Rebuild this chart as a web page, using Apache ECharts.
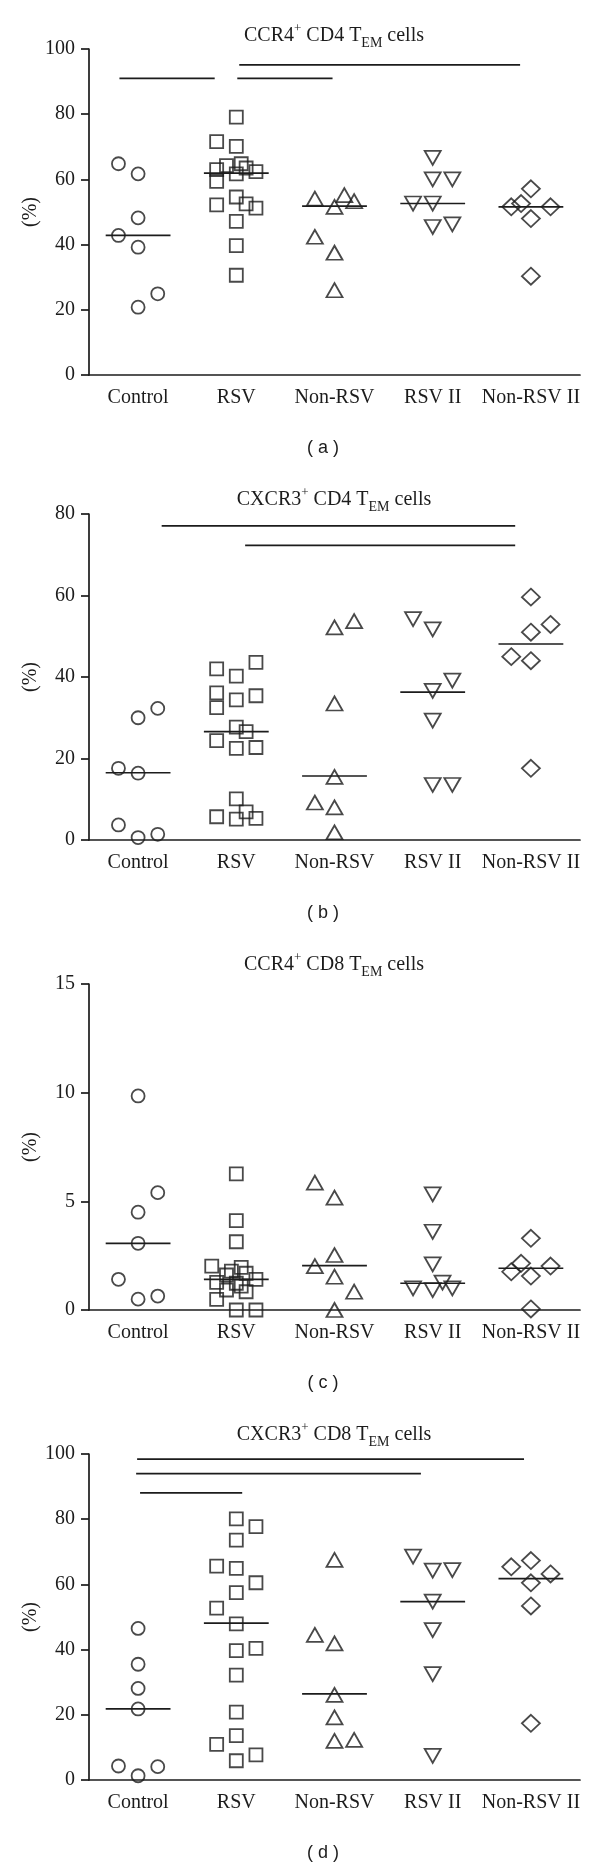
<!DOCTYPE html>
<html>
<head>
<meta charset="utf-8">
<script src="https://cdn.jsdelivr.net/npm/echarts@6/dist/echarts.min.js"></script>
<style>
  html, body { margin: 0; padding: 0; background: #fff; }
  #chart { width: 600px; height: 1869px; }
</style>
</head>
<body>
<div id="chart"></div>
<script>
// groups on the x axis
const categories = ['Control', 'RSV', 'Non-RSV', 'RSV II', 'Non-RSV II'];

// (a) CCR4+ CD4 TEM cells, values in % per group
const ccr4Cd4 = [
  [64.8, 61.7, 48.2, 42.8, 39.2, 24.9, 20.8],
  [79.1, 71.6, 70.1, 64.2, 64.8, 63.5, 62.4, 63.0, 61.7, 59.4, 54.6, 52.2, 52.5, 51.2, 47.1, 39.7, 30.6],
  [54.1, 55.2, 53.3, 51.6, 42.4, 37.5, 26.0],
  [66.6, 60.0, 60.0, 52.6, 52.6, 45.4, 46.2],
  [57.1, 52.6, 51.6, 51.6, 48.0, 30.3]
];
// horizontal spread of the points inside a group (category units)
const ccr4Cd4Jitter = [
  [-0.2, 0, 0, -0.2, 0, 0.2, 0],
  [0, -0.2, 0, -0.1, 0.05, 0.1, 0.2, -0.2, 0, -0.2, 0, -0.2, 0.1, 0.2, 0, 0, 0],
  [-0.2, 0.1, 0.2, 0, -0.2, 0, 0],
  [0, 0, 0.2, -0.2, 0, 0, 0.2],
  [0, -0.1, -0.2, 0.2, 0, 0]
];
const ccr4Cd4Median = [42.8, 61.9, 51.8, 52.6, 51.6];
// significance bars: [from, to, y]
const ccr4Cd4Bars = [[0.31, 1.28, 91], [1.51, 2.48, 91], [1.53, 4.39, 95.1]];

// (b) CXCR3+ CD4 TEM cells
const cxcr3Cd4 = [
  [30.0, 32.3, 17.6, 16.4, 3.7, 0.6, 1.4],
  [43.6, 42.0, 40.2, 36.1, 35.4, 34.4, 32.5, 27.7, 26.6, 24.4, 22.5, 22.7, 10.1, 6.9, 5.7, 5.1, 5.3],
  [52.2, 53.7, 33.5, 15.5, 9.2, 8.0, 1.9],
  [54.2, 51.7, 39.1, 36.6, 29.3, 13.5, 13.5],
  [59.6, 52.9, 51.0, 45.0, 44.0, 17.6]
];
const cxcr3Cd4Jitter = [
  [0, 0.2, -0.2, 0, -0.2, 0, 0.2],
  [0.2, -0.2, 0, -0.2, 0.2, 0, -0.2, 0, 0.1, -0.2, 0, 0.2, 0, 0.1, -0.2, 0, 0.2],
  [0, 0.2, 0, 0, -0.2, 0, 0],
  [-0.2, 0, 0.2, 0, 0, 0, 0.2],
  [0, 0.2, 0, -0.2, 0, 0]
];
const cxcr3Cd4Median = [16.5, 26.6, 15.7, 36.3, 48.1];
const cxcr3Cd4Bars = [[0.74, 4.34, 77.1], [1.59, 4.34, 72.3]];

// (c) CCR4+ CD8 TEM cells
const ccr4Cd8 = [
  [9.85, 5.4, 4.5, 3.07, 1.41, 0.5, 0.64],
  [6.26, 4.11, 3.14, 2.02, 1.96, 1.79, 1.69, 1.61, 1.27, 1.41, 1.23, 0.92, 0.84, 0.49, 0, 0, 1.1],
  [5.86, 5.17, 2.53, 2.02, 1.53, 0.84, 0],
  [5.32, 3.6, 2.1, 1.26, 1.0, 0.92, 1.0],
  [3.3, 2.15, 2.02, 1.76, 1.56, 0.05]
];
const ccr4Cd8Jitter = [
  [0, 0.2, 0, 0, -0.2, 0, 0.2],
  [0, 0, 0, -0.25, 0.05, -0.05, 0.1, -0.1, -0.2, 0.2, 0, -0.1, 0.1, -0.2, 0, 0.2, 0.05],
  [-0.2, 0, 0, -0.2, 0, 0.2, 0],
  [0, 0, 0, 0.1, -0.2, 0, 0.2],
  [0, -0.1, 0.2, -0.2, 0, 0]
];
const ccr4Cd8Median = [3.07, 1.41, 2.04, 1.23, 1.92];
const ccr4Cd8Bars = [];

// (d) CXCR3+ CD8 TEM cells
const cxcr3Cd8 = [
  [46.5, 35.5, 28.1, 21.8, 4.3, 4.1, 1.3],
  [80.1, 77.7, 73.6, 65.6, 64.9, 60.5, 57.5, 52.7, 47.9, 40.4, 39.7, 32.2, 20.8, 13.6, 10.9, 7.7, 5.9],
  [67.5, 44.5, 41.9, 26.1, 19.2, 12.0, 12.3],
  [68.5, 64.2, 64.4, 54.7, 46.0, 32.5, 7.4],
  [65.4, 67.3, 63.2, 60.5, 53.4, 17.4]
];
const cxcr3Cd8Jitter = [
  [0, 0, 0, 0, -0.2, 0.2, 0],
  [0, 0.2, 0, -0.2, 0, 0.2, 0, -0.2, 0, 0.2, 0, 0, 0, 0, -0.2, 0.2, 0],
  [0, -0.2, 0, 0, 0, 0, 0.2],
  [-0.2, 0, 0.2, 0, 0, 0, 0],
  [-0.2, 0, 0.2, 0, 0, 0]
];
const cxcr3Cd8Median = [21.8, 48.1, 26.4, 54.7, 61.8];
const cxcr3Cd8Bars = [[0.49, 4.43, 98.4], [0.48, 3.38, 94.0], [0.52, 1.56, 88.1]];

// y axis ranges
const yMax = [100, 80, 15, 100];
const yStep = [20, 20, 5, 20];

const panels = [
  { title: 'CCR4{sup|+} CD4 T{sub|EM} cells', label: '( a )', values: ccr4Cd4, jitter: ccr4Cd4Jitter, median: ccr4Cd4Median, bars: ccr4Cd4Bars, top: 49, titleY: 36, capY: 448 },
  { title: 'CXCR3{sup|+} CD4 T{sub|EM} cells', label: '( b )', values: cxcr3Cd4, jitter: cxcr3Cd4Jitter, median: cxcr3Cd4Median, bars: cxcr3Cd4Bars, top: 514, titleY: 500, capY: 913 },
  { title: 'CCR4{sup|+} CD8 T{sub|EM} cells', label: '( c )', values: ccr4Cd8, jitter: ccr4Cd8Jitter, median: ccr4Cd8Median, bars: ccr4Cd8Bars, top: 984, titleY: 965, capY: 1383 },
  { title: 'CXCR3{sup|+} CD8 T{sub|EM} cells', label: '( d )', values: cxcr3Cd8, jitter: cxcr3Cd8Jitter, median: cxcr3Cd8Median, bars: cxcr3Cd8Bars, top: 1454, titleY: 1435, capY: 1853 }
];

const ink = '#1c1c1c';
const serif = 'Liberation Serif';
const plotH = 326;
const markers = [
  { symbol: 'circle', size: 13, rotate: 0 },
  { symbol: 'rect', size: 13, rotate: 0 },
  { symbol: 'triangle', size: [16, 14], rotate: 0 },
  { symbol: 'triangle', size: [16, 14], rotate: 180 },
  { symbol: 'diamond', size: [18, 17], rotate: 0 }
];

function segmentRender(params, api) {
  const p1 = api.coord([api.value(0), api.value(2)]);
  const p2 = api.coord([api.value(1), api.value(2)]);
  return {
    type: 'line',
    shape: { x1: p1[0], y1: p1[1], x2: p2[0], y2: p2[1] },
    style: { stroke: ink, lineWidth: 1.7 }
  };
}

const grid = [], xAxis = [], yAxis = [], series = [], graphic = [];

panels.forEach((p, i) => {
  grid.push({ left: 89, right: 20, top: p.top, height: plotH });
  // visible category axis
  xAxis.push({
    type: 'category', gridIndex: i, data: categories,
    axisLine: { lineStyle: { color: ink, width: 1.7 } },
    axisTick: { alignWithLabel: true, length: 8, lineStyle: { color: ink, width: 1.7 } },
    axisLabel: { interval: 0, hideOverlap: false, color: ink, fontFamily: serif, fontSize: 20, margin: 13 }
  });
  // hidden numeric axis for the points and lines
  xAxis.push({ type: 'value', gridIndex: i, min: 0, max: 5, show: false });
  yAxis.push({
    type: 'value', gridIndex: i, min: 0, max: yMax[i], interval: yStep[i],
    axisLine: { show: true, lineStyle: { color: ink, width: 1.7 } },
    axisTick: { show: true, length: 8, lineStyle: { color: ink, width: 1.7 } },
    axisLabel: { color: ink, fontFamily: serif, fontSize: 20, margin: 14 },
    splitLine: { show: false }
  });

  p.values.forEach((vals, c) => {
    const m = markers[c];
    series.push({
      type: 'scatter', xAxisIndex: 2 * i + 1, yAxisIndex: i,
      symbol: m.symbol, symbolSize: m.size, symbolRotate: m.rotate,
      itemStyle: { color: 'rgba(0,0,0,0)', borderColor: ink, borderWidth: 1.8 },
      data: vals.map((v, k) => [c + 0.5 + p.jitter[c][k], v]),
      silent: true, z: 3
    });
  });

  const segs = p.median.map((m, c) => [c + 0.5 - 0.33, c + 0.5 + 0.33, m]).concat(p.bars);
  series.push({
    type: 'custom', xAxisIndex: 2 * i + 1, yAxisIndex: i,
    renderItem: segmentRender, data: segs, silent: true, z: 4
  });

  // y axis name, placed by hand so all four panels line up
  graphic.push({
    type: 'text', x: 31, y: p.top + plotH / 2, rotation: Math.PI / 2,
    style: {
      text: '(%)', fill: ink, fontFamily: serif, fontSize: 20,
      align: 'center', verticalAlign: 'middle'
    }
  });
  graphic.push({
    type: 'text', x: 334, y: p.titleY,
    style: {
      text: p.title, fill: ink, fontFamily: serif, fontSize: 20,
      align: 'center', verticalAlign: 'middle', lineHeight: 28,
      rich: {
        sup: { fontFamily: serif, fontSize: 13, lineHeight: 13, verticalAlign: 'top', fill: ink },
        sub: { fontFamily: serif, fontSize: 14, lineHeight: 14, verticalAlign: 'bottom', fill: ink }
      }
    }
  });
  graphic.push({
    type: 'text', x: 323, y: p.capY,
    style: {
      text: p.label, fill: ink, fontFamily: 'Liberation Sans', fontSize: 18,
      align: 'center', verticalAlign: 'middle'
    }
  });
});

const chart = echarts.init(document.getElementById('chart'), null, { renderer: 'canvas' });
chart.setOption({
  animation: false,
  backgroundColor: '#fff',
  grid, xAxis, yAxis, series, graphic
});
</script>
</body>
</html>
